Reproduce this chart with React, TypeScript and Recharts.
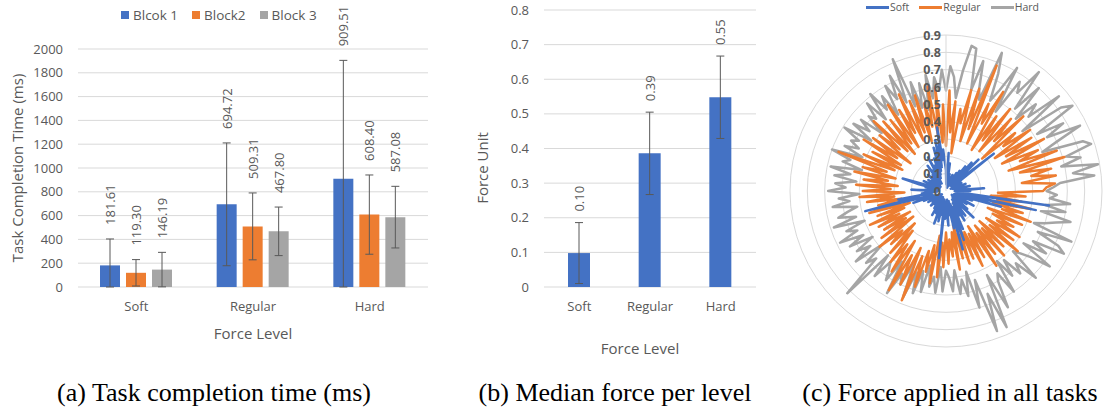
import React from "react";
import {
  BarChart, Bar, XAxis, YAxis, CartesianGrid, ErrorBar,
  RadarChart, Radar, PolarGrid, PolarAngleAxis, PolarRadiusAxis,
} from "recharts";

// ── Palette ────────────────────────────────────────────────────────────────
const BLUE = "#4472C4";
const ORANGE = "#ED7D31";
const GRAY = "#A5A5A5";
const TXT = "#595959";
const GRID = "#D9D9D9";
const FONT = "'Open Sans', sans-serif";
const SERIF = "'Liberation Serif', 'DejaVu Serif', serif";

// ── (a) Task completion time ───────────────────────────────────────────────
const levels = ["Soft", "Regular", "Hard"];
const block1 = [181.61, 694.72, 909.51];
const block2 = [119.3, 509.31, 608.4];
const block3 = [146.19, 467.8, 587.08];
const block1Err = [222, 516, 995];
const block2Err = [111, 281, 333];
const block3Err = [145, 204, 259];
const timeTicks = [0, 200, 400, 600, 800, 1000, 1200, 1400, 1600, 1800, 2000];

// ── (b) Median force ───────────────────────────────────────────────────────
const medianForce = [0.098, 0.386, 0.548];
const medianErr = [0.088, 0.119, 0.119];
const forceTicks = [0, 0.1, 0.2, 0.3, 0.4, 0.5, 0.6, 0.7, 0.8];

// ── (c) Force in all tasks (read every 2°, clockwise from top) ─────────────
const radarTicks = [0, 0.1, 0.2, 0.3, 0.4, 0.5, 0.6, 0.7, 0.8, 0.9];
const softForce = [
  0.12, 0.04, 0.22, 0.06, 0.16, 0.03, 0.10, 0.05, 0.08, 0.02,
  0.06, 0.10, 0.03, 0.08, 0.04, 0.12, 0.05, 0.14, 0.06, 0.18,
  0.04, 0.22, 0.08, 0.26, 0.05, 0.12, 0.35, 0.10, 0.06, 0.08,
  0.04, 0.10, 0.03, 0.07, 0.05, 0.12, 0.04, 0.08, 0.06, 0.14,
  0.05, 0.10, 0.06, 0.22, 0.08, 0.14, 0.05, 0.12, 0.07, 0.60,
  0.06, 0.53, 0.08, 0.33, 0.10, 0.16, 0.05, 0.12, 0.08, 0.18,
  0.06, 0.14, 0.04, 0.10, 0.08, 0.16, 0.05, 0.22, 0.07, 0.12,
  0.10, 0.18, 0.06, 0.14, 0.20, 0.08, 0.16, 0.10, 0.24, 0.12,
  0.30, 0.08, 0.35, 0.06, 0.22, 0.10, 0.14, 0.05, 0.20, 0.12,
  0.08, 0.16, 0.06, 0.39, 0.10, 0.14, 0.05, 0.18, 0.08, 0.12,
  0.20, 0.06, 0.14, 0.04, 0.10, 0.16, 0.05, 0.12, 0.08, 0.06,
  0.10, 0.04, 0.08, 0.12, 0.05, 0.10, 0.03, 0.08, 0.06, 0.12,
  0.05, 0.10, 0.04, 0.14, 0.06, 0.20, 0.08, 0.12, 0.48, 0.16,
  0.28, 0.08, 0.14, 0.05, 0.12, 0.06, 0.20, 0.04, 0.10, 0.06,
  0.12, 0.05, 0.16, 0.26, 0.08, 0.10, 0.04, 0.14, 0.06, 0.10,
  0.05, 0.12, 0.06, 0.10, 0.04, 0.08, 0.14, 0.05, 0.10, 0.06,
  0.12, 0.06, 0.18, 0.08, 0.14, 0.05, 0.22, 0.10, 0.16, 0.08,
  0.20, 0.10, 0.26, 0.12, 0.30, 0.14, 0.37, 0.18, 0.24, 0.16,
];
const regularForce = [
  0.26, 0.58, 0.34, 0.52, 0.22, 0.48, 0.40, 0.60, 0.30, 0.62,
  0.38, 0.78, 0.30, 0.56, 0.44, 0.66, 0.28, 0.52, 0.36, 0.60,
  0.30, 0.56, 0.40, 0.62, 0.28, 0.52, 0.42, 0.60, 0.34, 0.58,
  0.40, 0.64, 0.36, 0.58, 0.46, 0.68, 0.38, 0.71, 0.44, 0.62,
  0.50, 0.64, 0.44, 0.63, 0.58, 0.56, 0.30, 0.46, 0.26, 0.44,
  0.30, 0.50, 0.28, 0.46, 0.34, 0.52, 0.26, 0.48, 0.30, 0.44,
  0.34, 0.50, 0.28, 0.48, 0.32, 0.54, 0.26, 0.46, 0.30, 0.50,
  0.26, 0.46, 0.30, 0.52, 0.24, 0.44, 0.28, 0.48, 0.26, 0.42,
  0.22, 0.44, 0.26, 0.40, 0.20, 0.46, 0.24, 0.38, 0.28, 0.42,
  0.24, 0.44, 0.30, 0.50, 0.26, 0.54, 0.32, 0.48, 0.36, 0.58,
  0.40, 0.68, 0.36, 0.60, 0.42, 0.66, 0.34, 0.56, 0.38, 0.52,
  0.30, 0.48, 0.26, 0.44, 0.34, 0.50, 0.24, 0.46, 0.28, 0.42,
  0.24, 0.44, 0.30, 0.48, 0.26, 0.42, 0.22, 0.46, 0.28, 0.40,
  0.26, 0.46, 0.30, 0.50, 0.24, 0.48, 0.32, 0.52, 0.28, 0.48,
  0.34, 0.54, 0.30, 0.50, 0.36, 0.66, 0.32, 0.52, 0.28, 0.48,
  0.30, 0.56, 0.34, 0.52, 0.26, 0.50, 0.36, 0.58, 0.32, 0.54,
  0.28, 0.52, 0.34, 0.60, 0.30, 0.54, 0.38, 0.62, 0.32, 0.56,
  0.36, 0.58, 0.30, 0.52, 0.38, 0.61, 0.32, 0.60, 0.28, 0.50,
];
const hardForce = [
  0.58, 0.72, 0.66, 0.54, 0.70, 0.85, 0.84, 0.60, 0.78, 0.62,
  0.56, 0.86, 0.74, 0.58, 0.66, 0.82, 0.54, 0.76, 0.70, 0.87,
  0.62, 0.80, 0.58, 0.72, 0.64, 0.85, 0.56, 0.82, 0.88, 0.62,
  0.78, 0.66, 0.86, 0.70, 0.60, 0.84, 0.88, 0.72, 0.80, 0.68,
  0.89, 0.74, 0.86, 0.66, 0.62, 0.58, 0.64, 0.60, 0.72, 0.58,
  0.70, 0.56, 0.74, 0.66, 0.60, 0.54, 0.78, 0.58, 0.72, 0.77,
  0.58, 0.68, 0.54, 0.74, 0.62, 0.56, 0.52, 0.72, 0.58, 0.64,
  0.52, 0.62, 0.50, 0.70, 0.56, 0.60, 0.76, 0.54, 0.86, 0.64,
  0.86, 0.54, 0.70, 0.48, 0.62, 0.52, 0.60, 0.46, 0.58, 0.50,
  0.46, 0.58, 0.44, 0.59, 0.50, 0.56, 0.44, 0.60, 0.48, 0.62,
  0.50, 0.66, 0.46, 0.60, 0.54, 0.68, 0.48, 0.62, 0.56, 0.52,
  0.64, 0.50, 0.82, 0.56, 0.62, 0.48, 0.66, 0.54, 0.62, 0.50,
  0.64, 0.54, 0.68, 0.56, 0.62, 0.50, 0.68, 0.54, 0.64, 0.58,
  0.52, 0.66, 0.56, 0.62, 0.50, 0.68, 0.58, 0.64, 0.52, 0.65,
  0.56, 0.68, 0.50, 0.62, 0.58, 0.70, 0.52, 0.64, 0.56, 0.62,
  0.58, 0.69, 0.52, 0.66, 0.56, 0.64, 0.50, 0.62, 0.58, 0.68,
  0.54, 0.71, 0.58, 0.66, 0.52, 0.70, 0.60, 0.74, 0.56, 0.82,
  0.52, 0.66, 0.50, 0.64, 0.48, 0.68, 0.54, 0.66, 0.58, 0.70,
];

// errors below the axis are cut at 0, as in the original
const lowHigh = (v: number, e: number) => [Math.min(v, e), e];

const timeData = levels.map((level, i) => ({
  level,
  b1: block1[i], b1e: lowHigh(block1[i], block1Err[i]),
  b2: block2[i], b2e: lowHigh(block2[i], block2Err[i]),
  b3: block3[i], b3e: lowHigh(block3[i], block3Err[i]),
}));

const forceData = levels.map((level, i) => ({
  level, f: medianForce[i], fe: lowHigh(medianForce[i], medianErr[i]),
}));

const radarData = softForce.map((s, i) => ({
  i, soft: s, regular: regularForce[i], hard: hardForce[i],
}));

// value label sitting above the error bar cap, rotated
const errLabel = (errs: number[], gap: number) => (props: any) => {
  const { x, y, width, height, value, index } = props;
  const cx = Number(x) + Number(width) / 2;
  const top = Number(y) - (errs[index] * Number(height)) / Number(value) - gap;
  return (
    <text
      key={`lbl-${index}`}
      x={cx}
      y={top}
      transform={`rotate(-90 ${cx} ${top})`}
      textAnchor="start"
      dominantBaseline="central"
      fill={TXT}
      fontSize={13}
      fontFamily={FONT}
    >
      {Number(value).toFixed(2)}
    </text>
  );
};

const tickStyle = { fontSize: 13, fill: TXT, fontFamily: FONT };

function AxisTitle({ x, y, text, rotate }: { x: number; y: number; text: string; rotate?: boolean }) {
  return (
    <div
      style={{
        position: "absolute", left: x, top: y, whiteSpace: "nowrap", lineHeight: 1,
        transform: `translate(-50%, -50%)${rotate ? " rotate(-90deg)" : ""}`,
        fontFamily: FONT, fontSize: 15, color: TXT,
      }}
    >
      {text}
    </div>
  );
}

function Caption({ x, text }: { x: number; text: string }) {
  return (
    <div
      style={{
        position: "absolute", left: x, top: 380, transform: "translateX(-50%)",
        whiteSpace: "nowrap", fontFamily: SERIF, fontSize: 26, lineHeight: "26px", color: "#000",
      }}
    >
      {text}
    </div>
  );
}

function BlockLegend() {
  const items = [
    { name: "Blcok 1", color: BLUE },
    { name: "Block2", color: ORANGE },
    { name: "Block 3", color: GRAY },
  ];
  return (
    <div style={{ position: "absolute", left: 121, top: 6, display: "flex", gap: 14, fontFamily: FONT, fontSize: 13.5, color: TXT, lineHeight: "18px" }}>
      {items.map((it) => (
        <div key={it.name} style={{ display: "flex", alignItems: "center", gap: 4 }}>
          <span style={{ width: 8, height: 8, background: it.color, display: "inline-block" }} />
          <span>{it.name}</span>
        </div>
      ))}
    </div>
  );
}

function RadarLegend() {
  const items = [
    { name: "Soft", color: BLUE },
    { name: "Regular", color: ORANGE },
    { name: "Hard", color: GRAY },
  ];
  return (
    <div style={{ position: "absolute", left: 866, top: 0, display: "flex", gap: 10, fontFamily: FONT, fontSize: 10.5, color: TXT, lineHeight: "15px" }}>
      {items.map((it) => (
        <div key={it.name} style={{ display: "flex", alignItems: "center", gap: 1 }}>
          <span style={{ width: 23, height: 3, background: it.color, display: "inline-block" }} />
          <span>{it.name}</span>
        </div>
      ))}
    </div>
  );
}

const radiusTick = (p: any) => (
  <text
    x={p.x - 5}
    y={p.y}
    textAnchor="end"
    dominantBaseline="central"
    fill={TXT}
    fontSize={12.5}
    fontWeight={700}
    fontFamily={FONT}
  >
    {String(Number(Number(p.payload.value).toFixed(1)))}
  </text>
);

export default function App() {
  return (
    <div style={{ position: "absolute", left: 0, top: 0, width: 1115, height: 413, background: "#fff", overflow: "hidden" }}>
      {/* (a) */}
      <div style={{ position: "absolute", left: 0, top: 0 }}>
        <BarChart width={440} height={360} data={timeData} barGap={6} margin={{ top: 49, right: 12, bottom: 43, left: 0 }}>
          <CartesianGrid vertical={false} stroke={GRID} />
          <XAxis dataKey="level" axisLine={false} tickLine={false} tickSize={0} tickMargin={15} tick={tickStyle} height={30} />
          <YAxis width={78} domain={[0, 2000]} ticks={timeTicks} interval={0} axisLine={false} tickLine={false} tickSize={0} tickMargin={15} tick={tickStyle} />
          <Bar dataKey="b1" fill={BLUE} barSize={20} isAnimationActive={false} label={errLabel(block1Err, 14)}>
            <ErrorBar dataKey="b1e" width={4} strokeWidth={1} stroke={TXT} direction="y" />
          </Bar>
          <Bar dataKey="b2" fill={ORANGE} barSize={20} isAnimationActive={false} label={errLabel(block2Err, 14)}>
            <ErrorBar dataKey="b2e" width={4} strokeWidth={1} stroke={TXT} direction="y" />
          </Bar>
          <Bar dataKey="b3" fill={GRAY} barSize={20} isAnimationActive={false} label={errLabel(block3Err, 14)}>
            <ErrorBar dataKey="b3e" width={4} strokeWidth={1} stroke={TXT} direction="y" />
          </Bar>
        </BarChart>
      </div>
      <BlockLegend />
      <AxisTitle x={17} y={168} text="Task Completion Time (ms)" rotate />
      <AxisTitle x={253} y={333} text="Force Level" />

      {/* (b) */}
      <div style={{ position: "absolute", left: 440, top: 0 }}>
        <BarChart width={340} height={360} data={forceData} margin={{ top: 10, right: 24, bottom: 43, left: 0 }}>
          <CartesianGrid vertical={false} stroke={GRID} />
          <XAxis dataKey="level" axisLine={false} tickLine={false} tickSize={0} tickMargin={15} tick={tickStyle} height={30} />
          <YAxis width={104} domain={[0, 0.8]} ticks={forceTicks} interval={0} axisLine={false} tickLine={false} tickSize={0} tickMargin={15} tick={tickStyle} />
          <Bar dataKey="f" fill={BLUE} barSize={22} isAnimationActive={false} label={errLabel(medianErr, 11)}>
            <ErrorBar dataKey="fe" width={4} strokeWidth={1} stroke={TXT} direction="y" />
          </Bar>
        </BarChart>
      </div>
      <AxisTitle x={482} y={168} text="Force Unit" rotate />
      <AxisTitle x={640} y={348} text="Force Level" />

      {/* (c) */}
      <div style={{ position: "absolute", left: 780, top: 0 }}>
        <RadarChart width={335} height={370} data={radarData} cx={166} cy={191} outerRadius={156} margin={{ top: 0, right: 0, bottom: 0, left: 0 }}>
          <PolarGrid gridType="circle" radialLines={false} stroke={GRID} />
          <PolarAngleAxis dataKey="i" tick={false} axisLine={false} tickLine={false} />
          <PolarRadiusAxis
            type="number"
            angle={90}
            domain={[0, 0.9]}
            allowDataOverflow
            allowDecimals
            tickCount={10}
            ticks={radarTicks as any}
            orientation="left"
            axisLine={{ stroke: GRID }}
            tickLine={false}
            tick={radiusTick}
          />
          <Radar dataKey="hard" stroke={GRAY} strokeWidth={2.5} fill="none" fillOpacity={0} strokeLinejoin="round" dot={false} isAnimationActive={false} />
          <Radar dataKey="regular" stroke={ORANGE} strokeWidth={2.5} fill="none" fillOpacity={0} strokeLinejoin="round" dot={false} isAnimationActive={false} />
          <Radar dataKey="soft" stroke={BLUE} strokeWidth={2.5} fill="none" fillOpacity={0} strokeLinejoin="round" dot={false} isAnimationActive={false} />
        </RadarChart>
      </div>
      <RadarLegend />

      <Caption x={214} text="(a) Task completion time (ms)" />
      <Caption x={615} text="(b) Median force per level" />
      <Caption x={950} text="(c) Force applied in all tasks" />
    </div>
  );
}
